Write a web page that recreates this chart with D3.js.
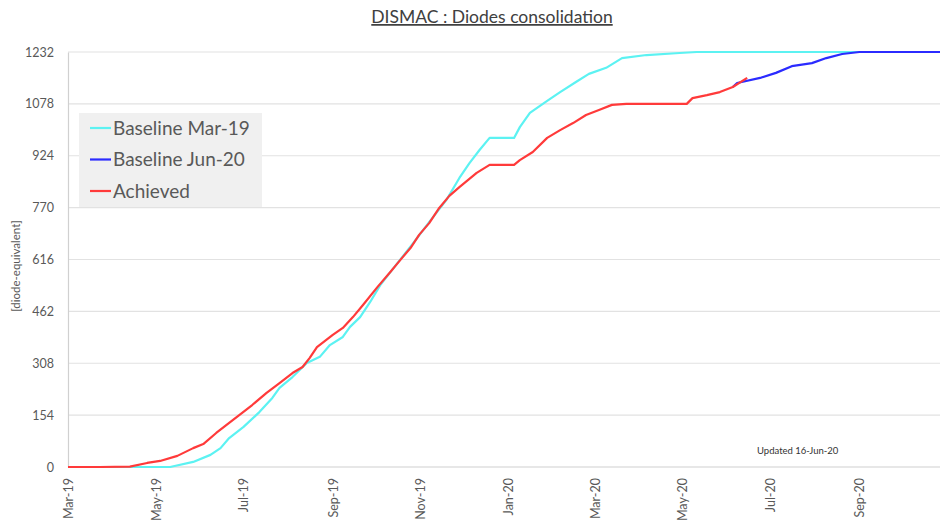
<!DOCTYPE html>
<html>
<head>
<meta charset="utf-8">
<script src="https://cdnjs.cloudflare.com/ajax/libs/d3/7.8.5/d3.min.js"></script>
<style>
  body { margin: 0; background: #fff; }
  text { font-family: Lato, "Open Sans", sans-serif; }
</style>
</head>
<body>
<div id="chart"></div>
<script>
/* chart data */
const yTicks = [0, 154, 308, 462, 616, 770, 924, 1078, 1232];
const xTickDates = ["2019-03-01", "2019-05-01", "2019-07-01", "2019-09-01", "2019-11-01",
                    "2020-01-01", "2020-03-01", "2020-05-01", "2020-07-01", "2020-09-01"];
const seriesNames = ["Baseline Mar-19", "Baseline Jun-20", "Achieved"];

const baseMar19Dates = ["2019-03-01", "2019-05-11", "2019-05-27", "2019-06-08", "2019-06-15", "2019-06-21",
  "2019-07-01", "2019-07-12", "2019-07-21", "2019-07-26", "2019-08-04", "2019-08-14", "2019-08-23",
  "2019-08-30", "2019-09-08", "2019-09-13", "2019-09-20", "2019-09-27", "2019-10-04", "2019-10-15",
  "2019-10-27", "2019-11-07", "2019-11-19", "2019-11-28", "2019-12-05", "2019-12-12", "2019-12-19",
  "2020-01-05", "2020-01-09", "2020-01-16", "2020-01-28", "2020-02-06", "2020-02-17", "2020-02-26",
  "2020-03-09", "2020-03-20", "2020-04-06", "2020-04-29", "2020-05-11", "2020-10-27"];
const baseMar19Values = [0, 0, 15, 36, 56, 86,
  119, 163, 205, 235, 267, 309, 327,
  362, 386, 416, 445, 490, 540, 600,
  665, 727, 793, 858, 902, 941, 977,
  977, 1009, 1051, 1087, 1113, 1143, 1167,
  1185, 1214, 1223, 1229, 1232, 1232];

const baseJun20Dates = ["2020-06-05", "2020-06-08", "2020-06-24", "2020-07-05", "2020-07-16",
  "2020-07-30", "2020-08-09", "2020-08-20", "2020-09-01", "2020-10-27"];
const baseJun20Values = [1128, 1140, 1155, 1170, 1190, 1199, 1214, 1226, 1232, 1232];

const achievedDates = ["2019-03-01", "2019-03-23", "2019-04-13", "2019-04-25", "2019-05-04", "2019-05-16",
  "2019-05-27", "2019-06-03", "2019-06-12", "2019-06-21", "2019-06-28", "2019-07-07", "2019-07-17",
  "2019-07-26", "2019-08-04", "2019-08-11", "2019-08-16", "2019-08-21", "2019-09-01", "2019-09-08",
  "2019-09-15", "2019-09-22", "2019-10-02", "2019-10-11", "2019-10-18", "2019-10-25", "2019-10-31",
  "2019-11-07", "2019-11-14", "2019-11-21", "2019-11-28", "2019-12-10", "2019-12-19", "2020-01-05",
  "2020-01-09", "2020-01-18", "2020-01-28", "2020-02-06", "2020-02-15", "2020-02-24", "2020-03-04",
  "2020-03-13", "2020-03-23", "2020-05-04", "2020-05-08", "2020-05-18", "2020-05-27", "2020-06-05",
  "2020-06-15"];
const achievedValues = [0, 0, 1, 12, 18, 33,
  56, 68, 101, 131, 154, 184, 220,
  249, 279, 297, 324, 356, 392, 413,
  445, 481, 534, 579, 615, 650, 689,
  724, 769, 805, 831, 873, 897, 897,
  911, 935, 977, 1000, 1021, 1045, 1060,
  1075, 1078, 1078, 1095, 1104, 1113, 1128,
  1155];

const colors = ["#5cf2f2", "#2b2bff", "#ff3a3a"];

/* dimensions */
const W = 940, H = 523;
const margin = { top: 52, right: 0, bottom: 56, left: 68 };
const parse = d3.timeParse("%Y-%m-%d");

const svg = d3.select("#chart").append("svg")
  .attr("width", W).attr("height", H);

const x = d3.scaleTime()
  .domain([parse("2019-03-01"), parse("2020-10-27")])
  .range([margin.left, W - margin.right]);
const y = d3.scaleLinear()
  .domain([0, 1232])
  .range([H - margin.bottom, margin.top]);

/* gridlines */
svg.append("g")
  .selectAll("line")
  .data(yTicks)
  .join("line")
  .attr("x1", margin.left).attr("x2", W)
  .attr("y1", d => y(d)).attr("y2", d => y(d))
  .attr("stroke", d => d === 0 ? "#cfcfcf" : "#e2e2e2")
  .attr("stroke-width", 1.2);

/* y axis */
const yAxis = svg.append("g")
  .attr("transform", `translate(${margin.left},0)`)
  .call(d3.axisLeft(y).tickValues(yTicks).tickFormat(d3.format("d")).tickSize(0).tickPadding(14));
yAxis.select(".domain").attr("stroke", "#d0d0d0").attr("stroke-width", 1.2);
yAxis.selectAll("text").attr("fill", "#595959").style("font-size", "12.5px");

/* x axis */
const xAxis = svg.append("g")
  .attr("transform", `translate(0,${H - margin.bottom})`)
  .call(d3.axisBottom(x).tickValues(xTickDates.map(parse)).tickFormat(d3.timeFormat("%b-%y")).tickSize(0));
xAxis.select(".domain").remove();
xAxis.selectAll("text")
  .attr("fill", "#595959").style("font-size", "12.5px")
  .attr("transform", "rotate(-90)")
  .attr("text-anchor", "end")
  .attr("x", -11).attr("y", 0).attr("dy", "0.35em");

/* axis title */
svg.append("text")
  .attr("transform", `translate(20,266) rotate(-90)`)
  .attr("text-anchor", "middle")
  .attr("fill", "#595959")
  .style("font-size", "11.5px")
  .text("[diode-equivalent]");

/* title */
svg.append("text")
  .attr("x", 492).attr("y", 23)
  .attr("text-anchor", "middle")
  .attr("fill", "#404040")
  .style("font-size", "17.5px")
  .style("text-decoration", "underline")
  .text("DISMAC : Diodes consolidation");

/* lines */
const line = d3.line()
  .x(d => x(d.date))
  .y(d => y(d.value));

const series = [
  baseMar19Dates.map((d, i) => ({ date: parse(d), value: baseMar19Values[i] })),
  baseJun20Dates.map((d, i) => ({ date: parse(d), value: baseJun20Values[i] })),
  achievedDates.map((d, i) => ({ date: parse(d), value: achievedValues[i] }))
];

svg.append("g")
  .selectAll("path")
  .data(series)
  .join("path")
  .attr("fill", "none")
  .attr("stroke", (d, i) => colors[i])
  .attr("stroke-width", 2.2)
  .attr("stroke-linejoin", "round")
  .attr("d", line);

/* updated note */
svg.append("text")
  .attr("x", 757).attr("y", 454)
  .attr("fill", "#333")
  .style("font-size", "9.5px")
  .text("Updated 16-Jun-20");

/* legend */
const legend = svg.append("g");
legend.append("rect")
  .attr("x", 79).attr("y", 113)
  .attr("width", 183).attr("height", 94)
  .attr("fill", "#f0f0f0");
const rows = legend.selectAll("g.row")
  .data(seriesNames)
  .join("g")
  .attr("class", "row")
  .attr("transform", (d, i) => `translate(90,${128 + i * 31.5})`);
rows.append("line")
  .attr("x1", 0).attr("x2", 21)
  .attr("stroke", (d, i) => colors[i])
  .attr("stroke-width", 2.2);
rows.append("text")
  .attr("x", 23).attr("dy", "0.35em")
  .attr("fill", "#595959")
  .style("font-size", "19px")
  .text(d => d);
</script>
</body>
</html>
